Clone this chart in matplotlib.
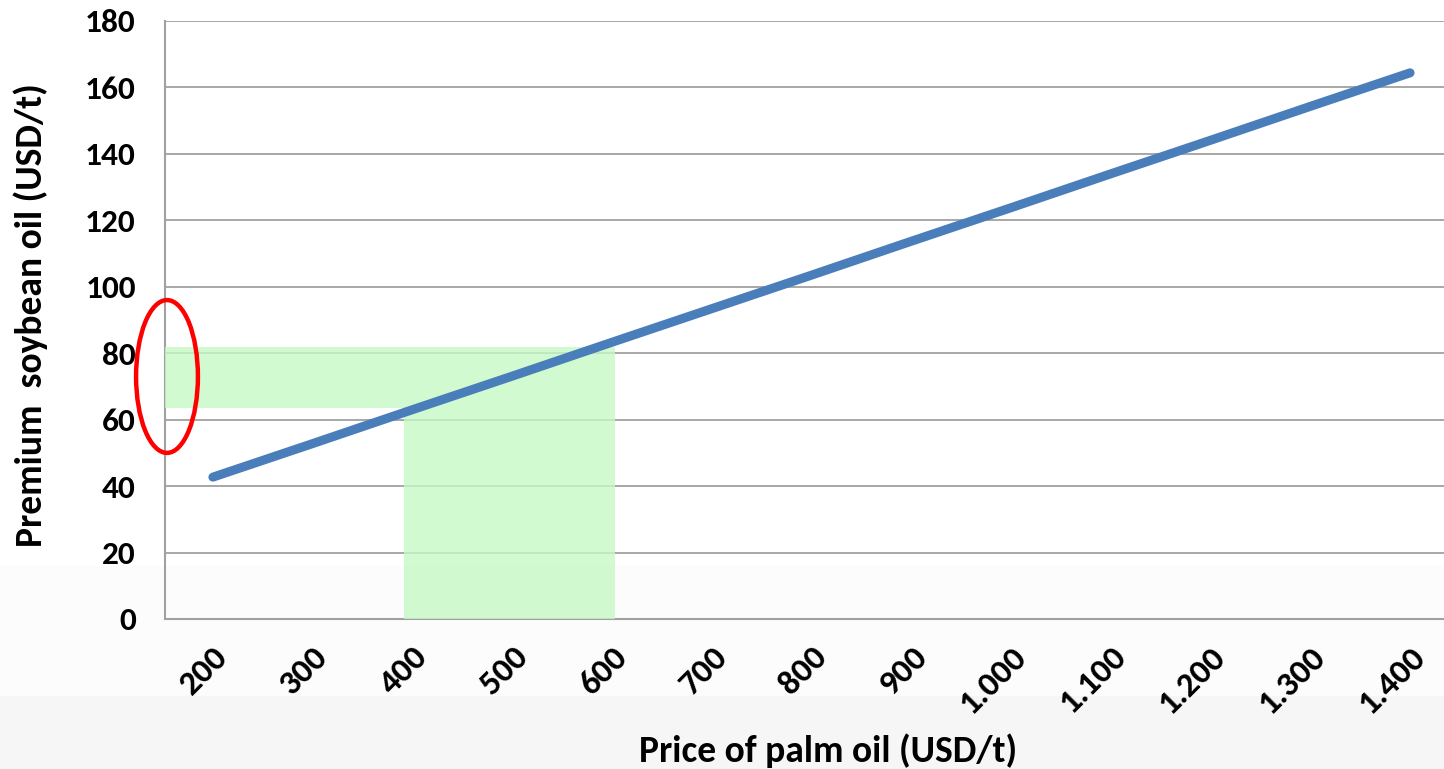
import numpy as np
import matplotlib.pyplot as plt
from matplotlib.patches import Ellipse, Polygon

### Data
palm_price = [200, 300, 400, 500, 600, 700, 800, 900, 1000, 1100, 1200, 1300, 1400]
price_labels = ['200', '300', '400', '500', '600', '700', '800', '900',
                '1.000', '1.100', '1.200', '1.300', '1.400']
premium = [42.7, 52.8, 63.0, 73.1, 83.3, 93.4, 103.5, 113.7, 123.8, 134.0, 144.1, 154.3, 164.4]

band_x = (392, 603)      # highlighted palm oil price range
band_y = (63.5, 81.8)    # matching premium range
ring_xy = (154, 73)      # red ring on the y axis
ring_wh = (62, 46)

FAM = ['Carlito', 'Lato', 'DejaVu Sans']
plt.rcParams['font.family'] = FAM
plt.rcParams['font.weight'] = 'bold'

def main():
    fig = plt.figure(figsize=(14.44, 7.69), dpi=100)

    ### soft grey shading at the bottom of the slide
    bg = fig.add_axes([0, 0, 1, 1], zorder=-10)
    ny = 769
    yy = np.arange(ny)
    shade = np.ones(ny)
    shade[yy > 565] = 0.986
    shade[yy > 695] = 0.962
    bg.imshow(np.repeat(shade[:, None], 4, axis=1), cmap='gray', vmin=0, vmax=1,
              aspect='auto', extent=[0, 1, 0, 1], origin='upper')
    bg.set_axis_off()

    left, right, bottom, top = 165/1444, 1.0, 1-619/769, 1-21/769
    ax = fig.add_axes([left, bottom, right-left, top-bottom])
    ax.set_facecolor('none')

    ### L-shaped highlight
    x0, x1 = band_x
    y0, y1 = band_y
    xl = 152
    poly = Polygon([(xl, y0), (x0, y0), (x0, 0), (x1, 0), (x1, y1), (xl, y1)],
                   closed=True, facecolor='#c6f9c6', edgecolor='none', alpha=0.8, zorder=3)
    ax.add_patch(poly)

    ax.plot(palm_price, premium, color='#4a7ebb', lw=6.5, solid_capstyle='round', zorder=4)

    ring = Ellipse(ring_xy, ring_wh[0], ring_wh[1], facecolor='none', edgecolor='#ff0000',
                   lw=3.2, clip_on=False, zorder=6)
    ax.add_patch(ring)

    ax.set_xlim(152, 1434)
    ax.set_ylim(0, 180)
    ax.set_yticks(np.arange(0, 181, 20))
    ax.yaxis.grid(True, color='#a0a0a0', lw=1.3, zorder=1)
    ax.set_axisbelow(True)
    for s in ['top', 'right']:
        ax.spines[s].set_visible(False)
    for s in ['left', 'bottom']:
        ax.spines[s].set_color('#a0a0a0')
        ax.spines[s].set_linewidth(1.5)

    ax.set_xticks(palm_price)
    ax.set_xticklabels(price_labels, rotation=45, ha='right', va='top',
                       rotation_mode='anchor', fontsize=25, fontweight='bold', family=FAM)
    ax.tick_params(axis='x', length=0, pad=16)
    ax.tick_params(axis='y', length=0, pad=21, labelsize=24)
    for t in ax.get_yticklabels():
        t.set_fontweight('bold')
        t.set_family(FAM)

    fig.text(31/1444, 1-315/769, 'Premium  soybean oil (USD/t)', rotation=90, family=FAM,
             ha='center', va='center', fontsize=27, fontweight='bold')
    fig.text(828/1444, 1-762/769, 'Price of palm oil (USD/t)', family=FAM,
             ha='center', va='baseline', fontsize=27, fontweight='bold')

    fig.savefig('out.png', dpi=100)

if __name__ == '__main__':
    main()
